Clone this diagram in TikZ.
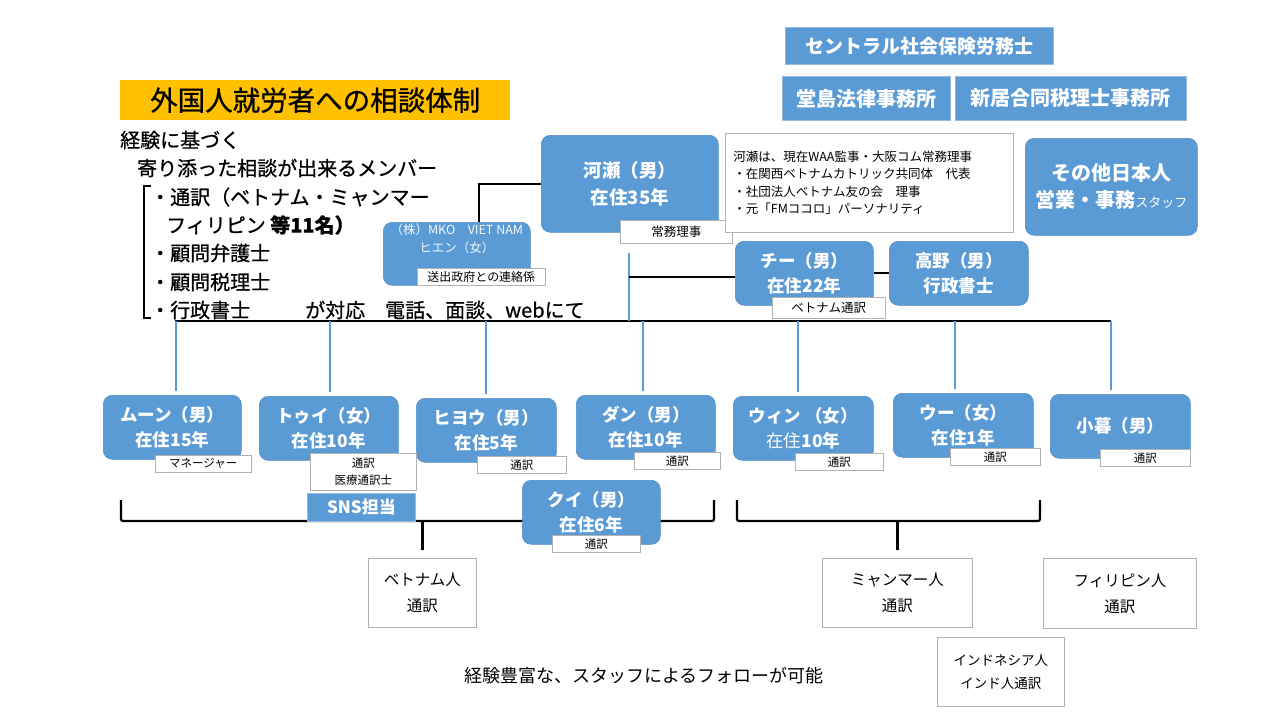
\documentclass[tikz,border=0pt]{standalone}
\usepackage{fontspec}
\setmainfont{Noto Sans CJK JP}
\newfontfamily\medjp{Noto Sans CJK JP}[FakeBold=0.7]
\usetikzlibrary{calc}
\definecolor{bblue}{HTML}{5B9BD5}
\definecolor{bedge}{HTML}{4F8CC6}
\definecolor{tgold}{HTML}{FFC000}
\definecolor{lblue}{HTML}{5B9BD5}
\tikzset{
  bnode/.style={rounded corners=9pt, fill=bblue, draw=bedge, line width=0.6pt, text=white,
    font=\bfseries\fontsize{17.5}{25}\selectfont, align=center, inner sep=0pt, anchor=north west},
  snode/.style={fill=bblue, draw=bedge!60!white, line width=0.8pt, text=white,
    font=\bfseries\fontsize{19}{22}\selectfont, align=center, inner sep=0pt, anchor=north west},
  lbl/.style={fill=white, draw=gray!60, line width=0.6pt, text=black,
    font=\fontsize{11.5}{14}\selectfont, align=center, inner sep=0pt, anchor=north west},
  obox/.style={fill=white, draw=gray!60, line width=0.8pt, text=black,
    font=\fontsize{15.5}{26}\selectfont, align=center, inner sep=0pt, anchor=north west},
  blk/.style={line width=2.2pt, black},
  bl/.style={line width=1.8pt, lblue},
  txt/.style={anchor=west, inner sep=0pt, font=\medjp\fontsize{20}{24}\selectfont},
}
\begin{document}
\begin{tikzpicture}[x=1pt,y=-1pt]
\fill[white] (0,0) rectangle (1280,720);

% title and left text
\node[fill=tgold, anchor=north west, minimum width=390, minimum height=40, inner sep=0pt,
  font=\medjp\fontsize{27.5}{30}\selectfont] (title) at (120,80) {外国人就労者への相談体制};
\node[txt] (t1) at (120,140) {経験に基づく};
\node[txt] (t2) at (137,168) {寄り添った相談が出来るメンバー};
\node[txt] (t3) at (150,197) {・通訳（ベトナム・ミャンマー};
\node[txt] (t4) at (166,225) {フィリピン {\bfseries 等11名）}};
\node[txt] (t5) at (150,253) {・顧問弁護士};
\node[txt] (t6) at (150,282) {・顧問税理士};
\node[txt] (t7) at (150,310) {・行政書士};
\node[txt] (t8) at (305,310) {が対応};
\node[txt] (t9) at (385,310) {電話、面談、webにて};
\draw[line width=2.4pt] (151,186) -- (144,186) -- (144,318) -- (151,318);

% top-right offices
\node[snode, minimum width=268, minimum height=37] (central) at (785,27) {セントラル社会保険労務士};
\node[snode, minimum width=168, minimum height=44, font=\bfseries\fontsize{20}{22}\selectfont] (dojima) at (782,76) {堂島法律事務所};
\node[snode, minimum width=231, minimum height=44, font=\bfseries\fontsize{20}{22}\selectfont] (arai) at (955,76) {新居合同税理士事務所};

% Kawase and note
\node[bnode, minimum width=177, minimum height=97, font=\bfseries\fontsize{18.5}{27}\selectfont] (kawase) at (541,135) {河瀬（男）\\在住35年};
\node[lbl, minimum width=112, minimum height=23, font=\fontsize{12.5}{14}\selectfont] (jomu) at (620,220) {常務理事};
\node[anchor=north west, fill=white, draw=gray!60, line width=0.8pt, minimum height=99,
  text width=272, inner xsep=8pt, inner ysep=0pt, align=left,
  font=\fontsize{12.5}{17.5}\selectfont] (note) at (725,133)
  {河瀬は、現在WAA監事・大阪コム常務理事\\・在関西ベトナムカトリック共同体　代表\\・社団法人ベトナム友の会　理事\\・元「FMココロ」パーソナリティ};
\node[bnode, minimum width=172, minimum height=97, font=\bfseries\fontsize{20}{27}\selectfont] (sonota) at (1025,138)
  {その他日本人\\営業・事務{\mdseries\fontsize{13}{27}\selectfont スタッフ}};

% MKO box
\node[bnode, minimum width=147, minimum height=63] (mko) at (383,222) {};
\node[anchor=north, inner sep=0pt, text=white!92!bblue, align=center, font=\fontsize{12.5}{18}\selectfont]
  (mkot) at ($(mko.north)+(0,2)$) {（株）MKO　VIET NAM\\ヒエン（女）};
\node[lbl, minimum width=128, minimum height=17, font=\fontsize{12}{14}\selectfont] (renraku) at (417,268) {送出政府との連絡係};

% connectors upper
\draw[blk] (kawase.west) -| ($(mko.north)+(22,0)$);
\coordinate (busL) at (175,321);
\coordinate (busR) at (1111,321);
\coordinate (jv) at (629,321);
\draw[blk] (busL) -- (busR);
\draw[bl] (jv) -- ($(jv |- jomu.south)+(0,9)$);

% Chi, Takano
\node[bnode, minimum width=138, minimum height=64] (chi) at (735,241) {チー（男）\\在住22年};
\node[bnode, minimum width=139, minimum height=64] (takano) at (889,241) {高野（男）\\行政書士};
\node[lbl, minimum width=113, minimum height=21, font=\fontsize{12.5}{14}\selectfont] (vntsu) at (772,297) {ベトナム通訳};
\draw[blk] ($(jv |- chi.west)+(0,4)$) -- ($(chi.west)+(0,4)$);
\draw[blk] (chi.east) -- (takano.west);

% braces
\coordinate (b1) at (416,521);
\coordinate (b2) at (893,521);
\draw[blk, rounded corners=2pt] (121,500) -- (121,521) -- (714,521) -- (714,500);
\draw[blk, rounded corners=2pt] (737,500) -- (737,521) -- (1040,521) -- (1040,500);

% bottom boxes
\node[bnode, minimum width=138, minimum height=64] (mun) at (103,395) {ムーン（男）\\在住15年};
\node[bnode, minimum width=139, minimum height=64] (thuy) at (259,396) {トゥイ（女）\\在住10年};
\node[bnode, minimum width=140, minimum height=64] (hiyou) at (416,398) {ヒヨウ（男）\\在住5年};
\node[bnode, minimum width=139, minimum height=64] (dan) at (576,395) {ダン（男）\\在住10年};
\node[bnode, minimum width=140, minimum height=64] (win) at (733,396) {ウィン （女）\\{\mdseries 在住}10年};
\node[bnode, minimum width=140, minimum height=64] (u) at (893,393) {ウー（女）\\在住1年};
\node[bnode, minimum width=140, minimum height=64] (kogure) at (1050,394) {小暮（男）};
\node[bnode, minimum width=138, minimum height=64] (kui) at (522,480) {クイ（男）\\在住6年};

\node[lbl, minimum width=96, minimum height=17] (lmun) at (155,455) {マネージャー};
\node[lbl, minimum width=106, minimum height=37, font=\fontsize{11.5}{17}\selectfont] (lthuy) at (310,453) {通訳\\医療通訳士};
\node[snode, minimum width=108, minimum height=28, font=\bfseries\fontsize{17}{20}\selectfont] (sns) at (307,493) {SNS担当};
\node[lbl, minimum width=89, minimum height=17] (lhiyou) at (477,456) {通訳};
\node[lbl, minimum width=86, minimum height=17] (ldan) at (634,452) {通訳};
\node[lbl, minimum width=88, minimum height=17] (lwin) at (795,453) {通訳};
\node[lbl, minimum width=90, minimum height=17] (lu) at (950,448) {通訳};
\node[lbl, minimum width=90, minimum height=17] (lkogure) at (1100,449) {通訳};
\node[lbl, minimum width=88, minimum height=17] (lkui) at (552,535) {通訳};

% drops from bus
\foreach \xx/\nn in {176/mun, 330/thuy, 486/hiyou, 643/dan, 798/win, 955/u, 1111/kogure}{
  \coordinate (d\nn) at (\xx,321);
  \draw[bl] (d\nn) -- ($(d\nn |- \nn.north)+(0,-4)$);
}

% bottom outline boxes
\node[obox, minimum width=108, minimum height=69] (vn) at (368,558) {ベトナム人\\通訳};
\node[obox, minimum width=150, minimum height=69] (mm) at (822,558) {ミャンマー人\\通訳};
\node[obox, minimum width=153, minimum height=70] (ph) at (1043,558) {フィリピン人\\通訳};
\node[obox, minimum width=127, minimum height=69, font=\fontsize{13.5}{23}\selectfont] (idn) at (937,637) {インドネシア人\\インド人通訳};
\draw[blk] (vn.north |- b1) -- ($(vn.north)+(0,-8)$);
\draw[blk] (mm.north |- b2) -- ($(mm.north)+(0,-8)$);

\node[inner sep=0pt, font=\fontsize{18}{22}\selectfont] (foot) at (644,676) {経験豊富な、スタッフによるフォローが可能};
\end{tikzpicture}
\end{document}
